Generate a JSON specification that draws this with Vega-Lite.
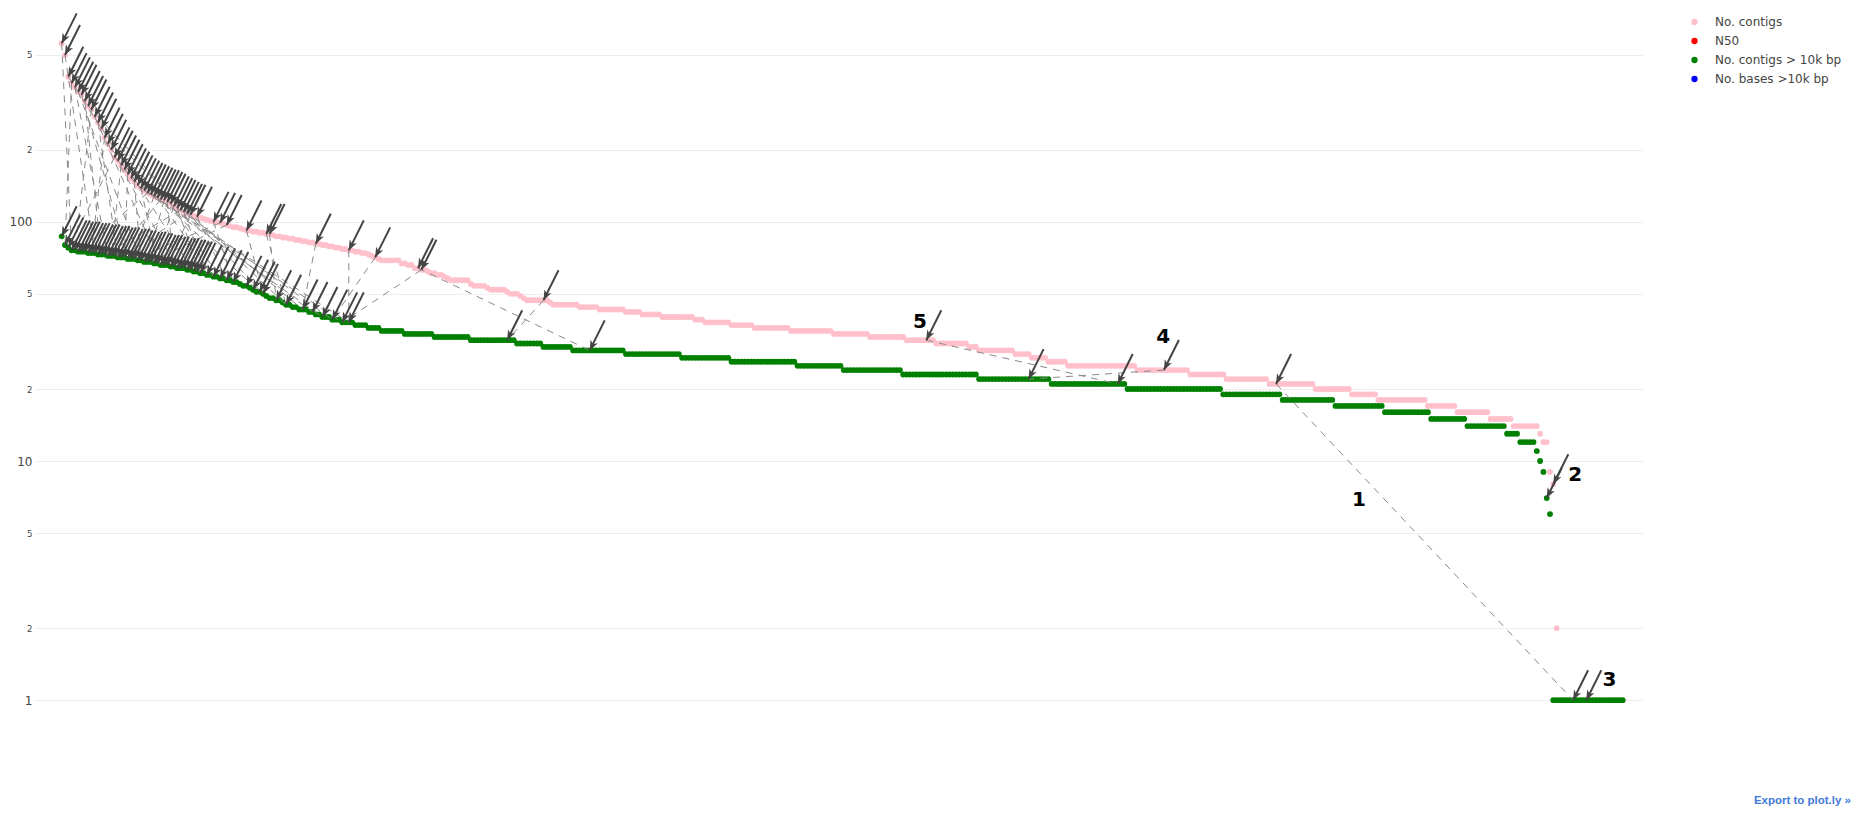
{
"$schema":"https://vega.github.io/schema/vega-lite/v6.json",
"width":1608,"height":780,
"autosize":{"type":"none"},
"padding":{"left":35,"top":10,"right":218,"bottom":31},
"background":"white",
"config":{"view":{"stroke":null},"font":"DejaVu Sans"},
"title":{"text":"Export to plot.ly »","orient":"bottom","anchor":"end","frame":"group","dx":208,"offset":5,"fontSize":11.5,"fontWeight":"bold","color":"#447adb","font":"Liberation Sans"},
"datasets":{
"ranks":[
{"i":0,"p":557,"g":87},{"i":1,"p":498,"g":80},{"i":2,"p":404,"g":78},{"i":3,"p":380,"g":76},{"i":4,"p":365,"g":76},{"i":5,"p":350,"g":75},{"i":6,"p":340,"g":75},{"i":7,"p":320,"g":75},{"i":8,"p":305,"g":74},{"i":9,"p":295,"g":74},
{"i":10,"p":275,"g":74},{"i":11,"p":260,"g":73},{"i":12,"p":245,"g":73},{"i":13,"p":225,"g":73},{"i":14,"p":212,"g":72},{"i":15,"p":200,"g":72},{"i":16,"p":186,"g":72},{"i":17,"p":180,"g":71},{"i":18,"p":172,"g":71},{"i":19,"p":165,"g":71},
{"i":20,"p":158,"g":70},{"i":21,"p":152,"g":70},{"i":22,"p":147,"g":70},{"i":23,"p":142,"g":69},{"i":24,"p":138,"g":69},{"i":25,"p":135,"g":68},{"i":26,"p":132,"g":68},{"i":27,"p":130,"g":68},{"i":28,"p":128,"g":67},{"i":29,"p":126,"g":67},
{"i":30,"p":124,"g":66},{"i":31,"p":123,"g":66},{"i":32,"p":121,"g":66},{"i":33,"p":119,"g":65},{"i":34,"p":116,"g":65},{"i":35,"p":114,"g":64},{"i":36,"p":112,"g":64},{"i":37,"p":110,"g":64},{"i":38,"p":108,"g":63},{"i":39,"p":107,"g":63},
{"i":40,"p":106,"g":62},{"i":41,"p":105,"g":62},{"i":42,"p":104,"g":61},{"i":43,"p":103,"g":61},{"i":44,"p":102,"g":60},{"i":45,"p":101,"g":60},{"i":46,"p":100,"g":59},{"i":47,"p":100,"g":59},{"i":48,"p":99,"g":58},{"i":49,"p":98,"g":58},
{"i":50,"p":97,"g":57},{"i":51,"p":96,"g":57},{"i":52,"p":95,"g":56},{"i":53,"p":95,"g":56},{"i":54,"p":94,"g":55},{"i":55,"p":93,"g":54},{"i":56,"p":92,"g":54},{"i":57,"p":92,"g":53},{"i":58,"p":91,"g":52},{"i":59,"p":91,"g":51},
{"i":60,"p":90,"g":51},{"i":61,"p":90,"g":50},{"i":62,"p":89,"g":49},{"i":63,"p":89,"g":48},{"i":64,"p":88,"g":48},{"i":65,"p":87,"g":47},{"i":66,"p":87,"g":47},{"i":67,"p":86,"g":46},{"i":68,"p":86,"g":45},{"i":69,"p":85,"g":45},
{"i":70,"p":85,"g":44},{"i":71,"p":84,"g":44},{"i":72,"p":84,"g":43},{"i":73,"p":83,"g":43},{"i":74,"p":83,"g":43},{"i":75,"p":82,"g":42},{"i":76,"p":82,"g":42},{"i":77,"p":81,"g":41},{"i":78,"p":81,"g":41},{"i":79,"p":80,"g":40},
{"i":80,"p":80,"g":40},{"i":81,"p":79,"g":40},{"i":82,"p":79,"g":39},{"i":83,"p":78,"g":39},{"i":84,"p":78,"g":39},{"i":85,"p":77,"g":38},{"i":86,"p":77,"g":38},{"i":87,"p":76,"g":38},{"i":88,"p":76,"g":38},{"i":89,"p":75,"g":37},
{"i":90,"p":75,"g":37},{"i":91,"p":74,"g":37},{"i":92,"p":74,"g":37},{"i":93,"p":73,"g":36},{"i":94,"p":72,"g":36},{"i":95,"p":71,"g":36},{"i":96,"p":70,"g":36},{"i":97,"p":69,"g":35},{"i":98,"p":69,"g":35},{"i":99,"p":69,"g":35},
{"i":100,"p":69,"g":35},{"i":101,"p":69,"g":35},{"i":102,"p":69,"g":35},{"i":103,"p":67,"g":35},{"i":104,"p":67,"g":34},{"i":105,"p":66,"g":34},{"i":106,"p":66,"g":34},{"i":107,"p":64,"g":34},{"i":108,"p":64,"g":34},{"i":109,"p":63,"g":34},
{"i":110,"p":63,"g":34},{"i":111,"p":62,"g":34},{"i":112,"p":61,"g":34},{"i":113,"p":61,"g":33},{"i":114,"p":60,"g":33},{"i":115,"p":60,"g":33},{"i":116,"p":59,"g":33},{"i":117,"p":58,"g":33},{"i":118,"p":57,"g":33},{"i":119,"p":57,"g":33},
{"i":120,"p":57,"g":33},{"i":121,"p":57,"g":33},{"i":122,"p":57,"g":33},{"i":123,"p":57,"g":33},{"i":124,"p":55,"g":32},{"i":125,"p":54,"g":32},{"i":126,"p":54,"g":32},{"i":127,"p":54,"g":32},{"i":128,"p":54,"g":32},{"i":129,"p":53,"g":32},
{"i":130,"p":52,"g":32},{"i":131,"p":52,"g":32},{"i":132,"p":52,"g":32},{"i":133,"p":52,"g":32},{"i":134,"p":52,"g":32},{"i":135,"p":51,"g":32},{"i":136,"p":50,"g":32},{"i":137,"p":50,"g":32},{"i":138,"p":50,"g":31},{"i":139,"p":49,"g":31},
{"i":140,"p":48,"g":31},{"i":141,"p":47,"g":31},{"i":142,"p":47,"g":31},{"i":143,"p":47,"g":31},{"i":144,"p":47,"g":31},{"i":145,"p":47,"g":31},{"i":146,"p":47,"g":30},{"i":147,"p":47,"g":30},{"i":148,"p":46,"g":30},{"i":149,"p":45,"g":30},
{"i":150,"p":45,"g":30},{"i":151,"p":45,"g":30},{"i":152,"p":45,"g":30},{"i":153,"p":45,"g":30},{"i":154,"p":45,"g":30},{"i":155,"p":45,"g":29},{"i":156,"p":45,"g":29},{"i":157,"p":44,"g":29},{"i":158,"p":44,"g":29},{"i":159,"p":44,"g":29},
{"i":160,"p":44,"g":29},{"i":161,"p":44,"g":29},{"i":162,"p":44,"g":29},{"i":163,"p":43,"g":29},{"i":164,"p":43,"g":29},{"i":165,"p":43,"g":29},{"i":166,"p":43,"g":29},{"i":167,"p":43,"g":29},{"i":168,"p":43,"g":29},{"i":169,"p":43,"g":29},
{"i":170,"p":43,"g":29},{"i":171,"p":42,"g":28},{"i":172,"p":42,"g":28},{"i":173,"p":42,"g":28},{"i":174,"p":42,"g":28},{"i":175,"p":42,"g":28},{"i":176,"p":41,"g":28},{"i":177,"p":41,"g":28},{"i":178,"p":41,"g":28},{"i":179,"p":41,"g":28},
{"i":180,"p":41,"g":28},{"i":181,"p":41,"g":28},{"i":182,"p":40,"g":28},{"i":183,"p":40,"g":28},{"i":184,"p":40,"g":28},{"i":185,"p":40,"g":28},{"i":186,"p":40,"g":28},{"i":187,"p":40,"g":28},{"i":188,"p":40,"g":27},{"i":189,"p":40,"g":27},
{"i":190,"p":40,"g":27},{"i":191,"p":40,"g":27},{"i":192,"p":39,"g":27},{"i":193,"p":39,"g":27},{"i":194,"p":39,"g":27},{"i":195,"p":38,"g":27},{"i":196,"p":38,"g":27},{"i":197,"p":38,"g":27},{"i":198,"p":38,"g":27},{"i":199,"p":38,"g":27},
{"i":200,"p":38,"g":27},{"i":201,"p":38,"g":27},{"i":202,"p":38,"g":27},{"i":203,"p":37,"g":26},{"i":204,"p":37,"g":26},{"i":205,"p":37,"g":26},{"i":206,"p":37,"g":26},{"i":207,"p":37,"g":26},{"i":208,"p":37,"g":26},{"i":209,"p":37,"g":26},
{"i":210,"p":36,"g":26},{"i":211,"p":36,"g":26},{"i":212,"p":36,"g":26},{"i":213,"p":36,"g":26},{"i":214,"p":36,"g":26},{"i":215,"p":36,"g":26},{"i":216,"p":36,"g":26},{"i":217,"p":36,"g":26},{"i":218,"p":36,"g":26},{"i":219,"p":36,"g":26},
{"i":220,"p":36,"g":26},{"i":221,"p":35,"g":26},{"i":222,"p":35,"g":26},{"i":223,"p":35,"g":25},{"i":224,"p":35,"g":25},{"i":225,"p":35,"g":25},{"i":226,"p":35,"g":25},{"i":227,"p":35,"g":25},{"i":228,"p":35,"g":25},{"i":229,"p":35,"g":25},
{"i":230,"p":35,"g":25},{"i":231,"p":35,"g":25},{"i":232,"p":35,"g":25},{"i":233,"p":35,"g":25},{"i":234,"p":34,"g":25},{"i":235,"p":34,"g":25},{"i":236,"p":34,"g":25},{"i":237,"p":34,"g":24},{"i":238,"p":34,"g":24},{"i":239,"p":34,"g":24},
{"i":240,"p":34,"g":24},{"i":241,"p":34,"g":24},{"i":242,"p":34,"g":24},{"i":243,"p":34,"g":24},{"i":244,"p":34,"g":24},{"i":245,"p":33,"g":24},{"i":246,"p":33,"g":24},{"i":247,"p":33,"g":24},{"i":248,"p":33,"g":24},{"i":249,"p":33,"g":24},
{"i":250,"p":33,"g":24},{"i":251,"p":33,"g":24},{"i":252,"p":33,"g":24},{"i":253,"p":33,"g":24},{"i":254,"p":33,"g":24},{"i":255,"p":33,"g":23},{"i":256,"p":32,"g":23},{"i":257,"p":32,"g":23},{"i":258,"p":32,"g":23},{"i":259,"p":32,"g":23},
{"i":260,"p":32,"g":23},{"i":261,"p":32,"g":23},{"i":262,"p":32,"g":23},{"i":263,"p":32,"g":23},{"i":264,"p":32,"g":23},{"i":265,"p":31,"g":23},{"i":266,"p":31,"g":23},{"i":267,"p":31,"g":23},{"i":268,"p":31,"g":23},{"i":269,"p":31,"g":23},
{"i":270,"p":31,"g":23},{"i":271,"p":31,"g":23},{"i":272,"p":31,"g":23},{"i":273,"p":31,"g":23},{"i":274,"p":31,"g":23},{"i":275,"p":30,"g":23},{"i":276,"p":30,"g":23},{"i":277,"p":30,"g":23},{"i":278,"p":29,"g":22},{"i":279,"p":29,"g":22},
{"i":280,"p":29,"g":22},{"i":281,"p":29,"g":22},{"i":282,"p":29,"g":22},{"i":283,"p":29,"g":22},{"i":284,"p":29,"g":22},{"i":285,"p":29,"g":22},{"i":286,"p":29,"g":22},{"i":287,"p":29,"g":22},{"i":288,"p":29,"g":22},{"i":289,"p":28,"g":22},
{"i":290,"p":28,"g":22},{"i":291,"p":28,"g":22},{"i":292,"p":28,"g":22},{"i":293,"p":28,"g":22},{"i":294,"p":27,"g":22},{"i":295,"p":27,"g":22},{"i":296,"p":27,"g":22},{"i":297,"p":27,"g":22},{"i":298,"p":27,"g":22},{"i":299,"p":26,"g":22},
{"i":300,"p":26,"g":21},{"i":301,"p":26,"g":21},{"i":302,"p":26,"g":21},{"i":303,"p":26,"g":21},{"i":304,"p":26,"g":21},{"i":305,"p":25,"g":21},{"i":306,"p":25,"g":21},{"i":307,"p":25,"g":21},{"i":308,"p":25,"g":21},{"i":309,"p":25,"g":21},
{"i":310,"p":25,"g":21},{"i":311,"p":25,"g":21},{"i":312,"p":25,"g":21},{"i":313,"p":25,"g":21},{"i":314,"p":25,"g":21},{"i":315,"p":25,"g":21},{"i":316,"p":25,"g":21},{"i":317,"p":25,"g":21},{"i":318,"p":25,"g":21},{"i":319,"p":25,"g":21},
{"i":320,"p":25,"g":21},{"i":321,"p":25,"g":21},{"i":322,"p":25,"g":21},{"i":323,"p":25,"g":20},{"i":324,"p":25,"g":20},{"i":325,"p":25,"g":20},{"i":326,"p":24,"g":20},{"i":327,"p":24,"g":20},{"i":328,"p":24,"g":20},{"i":329,"p":24,"g":20},
{"i":330,"p":24,"g":20},{"i":331,"p":24,"g":20},{"i":332,"p":24,"g":20},{"i":333,"p":24,"g":20},{"i":334,"p":24,"g":20},{"i":335,"p":24,"g":20},{"i":336,"p":24,"g":20},{"i":337,"p":24,"g":20},{"i":338,"p":24,"g":20},{"i":339,"p":24,"g":20},
{"i":340,"p":24,"g":20},{"i":341,"p":24,"g":20},{"i":342,"p":23,"g":20},{"i":343,"p":23,"g":20},{"i":344,"p":23,"g":20},{"i":345,"p":23,"g":20},{"i":346,"p":23,"g":20},{"i":347,"p":23,"g":20},{"i":348,"p":23,"g":20},{"i":349,"p":23,"g":20},
{"i":350,"p":23,"g":20},{"i":351,"p":23,"g":20},{"i":352,"p":23,"g":19},{"i":353,"p":22,"g":19},{"i":354,"p":22,"g":19},{"i":355,"p":22,"g":19},{"i":356,"p":22,"g":19},{"i":357,"p":22,"g":19},{"i":358,"p":22,"g":19},{"i":359,"p":22,"g":19},
{"i":360,"p":22,"g":19},{"i":361,"p":22,"g":19},{"i":362,"p":22,"g":19},{"i":363,"p":22,"g":19},{"i":364,"p":22,"g":19},{"i":365,"p":22,"g":19},{"i":366,"p":21,"g":19},{"i":367,"p":21,"g":19},{"i":368,"p":21,"g":19},{"i":369,"p":21,"g":19},
{"i":370,"p":21,"g":18},{"i":371,"p":21,"g":18},{"i":372,"p":21,"g":18},{"i":373,"p":21,"g":18},{"i":374,"p":21,"g":18},{"i":375,"p":21,"g":18},{"i":376,"p":21,"g":18},{"i":377,"p":21,"g":18},{"i":378,"p":21,"g":18},{"i":379,"p":21,"g":18},
{"i":380,"p":20,"g":18},{"i":381,"p":20,"g":18},{"i":382,"p":20,"g":18},{"i":383,"p":20,"g":18},{"i":384,"p":20,"g":18},{"i":385,"p":20,"g":18},{"i":386,"p":20,"g":17},{"i":387,"p":20,"g":17},{"i":388,"p":20,"g":17},{"i":389,"p":20,"g":17},
{"i":390,"p":20,"g":17},{"i":391,"p":19,"g":17},{"i":392,"p":19,"g":17},{"i":393,"p":19,"g":17},{"i":394,"p":19,"g":17},{"i":395,"p":19,"g":17},{"i":396,"p":19,"g":17},{"i":397,"p":19,"g":17},{"i":398,"p":19,"g":17},{"i":399,"p":18,"g":17},
{"i":400,"p":18,"g":17},{"i":401,"p":18,"g":16},{"i":402,"p":18,"g":16},{"i":403,"p":18,"g":16},{"i":404,"p":18,"g":16},{"i":405,"p":18,"g":16},{"i":406,"p":18,"g":16},{"i":407,"p":18,"g":16},{"i":408,"p":18,"g":16},{"i":409,"p":18,"g":16},
{"i":410,"p":18,"g":16},{"i":411,"p":18,"g":16},{"i":412,"p":18,"g":16},{"i":413,"p":18,"g":16},{"i":414,"p":17,"g":16},{"i":415,"p":17,"g":15},{"i":416,"p":17,"g":15},{"i":417,"p":17,"g":15},{"i":418,"p":17,"g":15},{"i":419,"p":17,"g":15},
{"i":420,"p":17,"g":15},{"i":421,"p":17,"g":15},{"i":422,"p":17,"g":15},{"i":423,"p":16,"g":15},{"i":424,"p":16,"g":15},{"i":425,"p":16,"g":15},{"i":426,"p":16,"g":14},{"i":427,"p":16,"g":14},{"i":428,"p":16,"g":14},{"i":429,"p":16,"g":14},
{"i":430,"p":16,"g":14},{"i":431,"p":16,"g":14},{"i":432,"p":16,"g":14},{"i":433,"p":15,"g":14},{"i":434,"p":15,"g":14},{"i":435,"p":15,"g":14},{"i":436,"p":15,"g":14},{"i":437,"p":15,"g":14},{"i":438,"p":15,"g":13},{"i":439,"p":15,"g":13},
{"i":440,"p":14,"g":13},{"i":441,"p":14,"g":13},{"i":442,"p":14,"g":12},{"i":443,"p":14,"g":12},{"i":444,"p":14,"g":12},{"i":445,"p":14,"g":12},{"i":446,"p":14,"g":12},{"i":447,"p":14,"g":11},{"i":448,"p":13,"g":10},{"i":449,"p":12,"g":9},
{"i":450,"p":12,"g":7},{"i":451,"p":9,"g":6},{"i":452,"p":8,"g":1},{"i":453,"p":2,"g":1},{"i":454,"p":1,"g":1},{"i":455,"p":1,"g":1},{"i":456,"p":1,"g":1},{"i":457,"p":1,"g":1},{"i":458,"p":1,"g":1},{"i":459,"p":1,"g":1},
{"i":460,"p":1,"g":1},{"i":461,"p":1,"g":1},{"i":462,"p":1,"g":1},{"i":463,"p":1,"g":1},{"i":464,"p":1,"g":1},{"i":465,"p":1,"g":1},{"i":466,"p":1,"g":1},{"i":467,"p":1,"g":1},{"i":468,"p":1,"g":1},{"i":469,"p":1,"g":1},
{"i":470,"p":1,"g":1},{"i":471,"p":1,"g":1},{"i":472,"p":1,"g":1},{"i":473,"p":1,"g":1}
],
"arrows":[
{"i":0,"v":557},{"i":1,"v":498},{"i":2,"v":404},{"i":3,"v":380},{"i":4,"v":365},{"i":5,"v":350},{"i":6,"v":340},{"i":7,"v":320},{"i":8,"v":305},{"i":9,"v":295},
{"i":10,"v":275},{"i":11,"v":260},{"i":12,"v":245},{"i":13,"v":225},{"i":14,"v":212},{"i":15,"v":200},{"i":16,"v":186},{"i":17,"v":180},{"i":18,"v":172},{"i":19,"v":165},
{"i":20,"v":158},{"i":21,"v":152},{"i":22,"v":147},{"i":23,"v":142},{"i":24,"v":138},{"i":25,"v":135},{"i":26,"v":132},{"i":27,"v":130},{"i":28,"v":128},{"i":29,"v":126},
{"i":30,"v":124},{"i":31,"v":123},{"i":32,"v":121},{"i":33,"v":119},{"i":34,"v":116},{"i":35,"v":114},{"i":36,"v":112},{"i":37,"v":110},{"i":38,"v":108},{"i":39,"v":107},
{"i":41,"v":105},{"i":46,"v":100},{"i":48,"v":99},{"i":50,"v":97},{"i":56,"v":92},{"i":62,"v":89},{"i":63,"v":89},{"i":77,"v":81},{"i":87,"v":76},{"i":95,"v":71},
{"i":108,"v":64},{"i":109,"v":63},{"i":146,"v":47},{"i":262,"v":32},{"i":334,"v":24},{"i":368,"v":21},{"i":452,"v":8},
{"i":0,"v":87},{"i":1,"v":80},{"i":2,"v":78},{"i":3,"v":76},{"i":4,"v":76},{"i":5,"v":75},{"i":6,"v":75},{"i":7,"v":75},{"i":8,"v":74},{"i":9,"v":74},
{"i":10,"v":74},{"i":11,"v":73},{"i":12,"v":73},{"i":13,"v":73},{"i":14,"v":72},{"i":15,"v":72},{"i":16,"v":72},{"i":17,"v":71},{"i":18,"v":71},{"i":19,"v":71},
{"i":20,"v":70},{"i":21,"v":70},{"i":22,"v":70},{"i":23,"v":69},{"i":24,"v":69},{"i":25,"v":68},{"i":26,"v":68},{"i":27,"v":68},{"i":28,"v":67},{"i":29,"v":67},
{"i":30,"v":66},{"i":31,"v":66},{"i":32,"v":66},{"i":33,"v":65},{"i":34,"v":65},{"i":35,"v":64},{"i":36,"v":64},{"i":37,"v":64},{"i":38,"v":63},{"i":39,"v":63},
{"i":40,"v":62},{"i":41,"v":62},{"i":42,"v":61},{"i":44,"v":60},{"i":46,"v":59},{"i":48,"v":58},{"i":50,"v":57},{"i":52,"v":56},{"i":56,"v":54},{"i":58,"v":52},
{"i":60,"v":51},{"i":61,"v":50},{"i":65,"v":47},{"i":68,"v":45},{"i":73,"v":43},{"i":76,"v":42},{"i":79,"v":40},{"i":82,"v":39},{"i":85,"v":38},{"i":87,"v":38},
{"i":135,"v":32},{"i":160,"v":29},{"i":293,"v":22},{"i":320,"v":21},{"i":450,"v":7},{"i":458,"v":1},{"i":462,"v":1}
],
"links":[
{"i1":0,"v1":557,"i2":3,"v2":76},{"i1":1,"v1":498,"i2":10,"v2":74},{"i1":2,"v1":404,"i2":40,"v2":62},{"i1":3,"v1":380,"i2":1,"v2":80},{"i1":4,"v1":365,"i2":14,"v2":72},
{"i1":5,"v1":350,"i2":24,"v2":69},{"i1":6,"v1":340,"i2":20,"v2":70},{"i1":7,"v1":320,"i2":12,"v2":73},{"i1":8,"v1":305,"i2":61,"v2":50},{"i1":9,"v1":295,"i2":4,"v2":76},
{"i1":10,"v1":275,"i2":30,"v2":66},{"i1":11,"v1":260,"i2":17,"v2":71},{"i1":12,"v1":245,"i2":68,"v2":45},{"i1":13,"v1":225,"i2":9,"v2":74},{"i1":14,"v1":212,"i2":35,"v2":64},
{"i1":15,"v1":200,"i2":73,"v2":43},{"i1":16,"v1":186,"i2":2,"v2":78},{"i1":17,"v1":180,"i2":60,"v2":51},{"i1":18,"v1":172,"i2":15,"v2":72},{"i1":19,"v1":165,"i2":82,"v2":39},
{"i1":20,"v1":158,"i2":19,"v2":71},{"i1":21,"v1":152,"i2":76,"v2":42},{"i1":22,"v1":147,"i2":24,"v2":69},{"i1":23,"v1":142,"i2":85,"v2":38},{"i1":24,"v1":138,"i2":29,"v2":67},
{"i1":25,"v1":135,"i2":79,"v2":40},{"i1":26,"v1":132,"i2":5,"v2":75},{"i1":27,"v1":130,"i2":87,"v2":38},{"i1":28,"v1":128,"i2":21,"v2":70},{"i1":29,"v1":126,"i2":46,"v2":59},
{"i1":30,"v1":124,"i2":16,"v2":72},{"i1":31,"v1":123,"i2":26,"v2":68},{"i1":32,"v1":121,"i2":34,"v2":65},{"i1":33,"v1":119,"i2":48,"v2":58},{"i1":34,"v1":116,"i2":28,"v2":67},
{"i1":35,"v1":114,"i2":42,"v2":61},{"i1":36,"v1":112,"i2":13,"v2":73},{"i1":37,"v1":110,"i2":44,"v2":60},{"i1":38,"v1":108,"i2":18,"v2":71},{"i1":39,"v1":107,"i2":32,"v2":66},
{"i1":41,"v1":105,"i2":50,"v2":57},{"i1":46,"v1":100,"i2":52,"v2":56},{"i1":48,"v1":99,"i2":22,"v2":70},{"i1":50,"v1":97,"i2":27,"v2":68},{"i1":56,"v1":92,"i2":61,"v2":50},
{"i1":62,"v1":89,"i2":68,"v2":45},{"i1":63,"v1":89,"i2":65,"v2":47},{"i1":77,"v1":81,"i2":73,"v2":43},{"i1":87,"v1":76,"i2":87,"v2":38},{"i1":95,"v1":71,"i2":82,"v2":39},
{"i1":109,"v1":63,"i2":85,"v2":38},{"i1":108,"v1":64,"i2":160,"v2":29},{"i1":146,"v1":47,"i2":135,"v2":32},{"i1":262,"v1":32,"i2":320,"v2":21},{"i1":334,"v1":24,"i2":293,"v2":22},
{"i1":368,"v1":21,"i2":458,"v2":1},{"i1":452,"v1":8,"i2":450,"v2":7}
],
"labels":[
{"i":260.1,"v":38.2,"t":"5"},{"i":333.8,"v":33.1,"t":"4"},{"i":393.1,"v":6.87,"t":"1"},{"i":458.6,"v":8.74,"t":"2"},{"i":469,"v":1.215,"t":"3"}
]
},
"layer":[
{"data":{"name":"ranks"},
 "mark":{"type":"circle","size":34,"opacity":1},
 "encoding":{
  "x":{"field":"i","type":"quantitative","scale":{"domain":[-8.09,479.18],"nice":false,"zero":false},"axis":null},
  "y":{"field":"p","type":"quantitative","title":null,"scale":{"type":"log","domain":[0.4213,768.4],"nice":false},
       "axis":{"values":[1,2,5,10,20,50,100,200,500],"labelExpr":"(datum.value==1||datum.value==10||datum.value==100) ? toString(datum.value) : substring(toString(datum.value),0,1)","grid":true,"gridColor":"#eeeeee","gridWidth":1,"domain":false,"ticks":false,"tickSize":0,"labelPadding":3,"labelColor":"#444444","labelFont":"DejaVu Sans","labelFontSize":{"condition":{"test":"datum.value==1||datum.value==10||datum.value==100","value":12},"value":8.5},"title":null}},
  "color":{"datum":"No. contigs","type":"nominal","scale":{"domain":["No. contigs","N50","No. contigs > 10k bp","No. bases >10k bp"],"range":["pink","red","green","blue"]},
       "legend":{"orient":"none","legendX":1653.5,"legendY":6,"title":null,"labelFont":"DejaVu Sans","labelFontSize":12,"labelColor":"#444444","symbolType":"circle","symbolSize":40,"symbolStrokeWidth":0,"labelOffset":14.5,"rowPadding":7,"padding":0}}
 }},
{"data":{"name":"ranks"},
 "mark":{"type":"circle","size":34,"opacity":1},
 "encoding":{
  "x":{"field":"i","type":"quantitative","scale":{"domain":[-8.09,479.18],"nice":false,"zero":false},"axis":null},
  "y":{"field":"g","type":"quantitative","title":null,"scale":{"type":"log","domain":[0.4213,768.4],"nice":false},
       "axis":{"values":[1,2,5,10,20,50,100,200,500],"labelExpr":"(datum.value==1||datum.value==10||datum.value==100) ? toString(datum.value) : substring(toString(datum.value),0,1)","grid":true,"gridColor":"#eeeeee","gridWidth":1,"domain":false,"ticks":false,"tickSize":0,"labelPadding":3,"labelColor":"#444444","labelFont":"DejaVu Sans","labelFontSize":{"condition":{"test":"datum.value==1||datum.value==10||datum.value==100","value":12},"value":8.5},"title":null}},
  "color":{"datum":"No. contigs > 10k bp","type":"nominal","scale":{"domain":["No. contigs","N50","No. contigs > 10k bp","No. bases >10k bp"],"range":["pink","red","green","blue"]},
       "legend":{"orient":"none","legendX":1653.5,"legendY":6,"title":null,"labelFont":"DejaVu Sans","labelFontSize":12,"labelColor":"#444444","symbolType":"circle","symbolSize":40,"symbolStrokeWidth":0,"labelOffset":14.5,"rowPadding":7,"padding":0}}
 }},
{"data":{"name":"links"},
 "mark":{"type":"rule","color":"#888888","strokeWidth":1,"strokeDash":[7,6]},
 "encoding":{
  "x":{"field":"i1","type":"quantitative","scale":{"domain":[-8.09,479.18],"nice":false,"zero":false},"axis":null},
  "x2":{"field":"i2"},
  "y":{"field":"v1","type":"quantitative","title":null,"scale":{"type":"log","domain":[0.4213,768.4],"nice":false},
       "axis":{"values":[1,2,5,10,20,50,100,200,500],"labelExpr":"(datum.value==1||datum.value==10||datum.value==100) ? toString(datum.value) : substring(toString(datum.value),0,1)","grid":true,"gridColor":"#eeeeee","gridWidth":1,"domain":false,"ticks":false,"tickSize":0,"labelPadding":3,"labelColor":"#444444","labelFont":"DejaVu Sans","labelFontSize":{"condition":{"test":"datum.value==1||datum.value==10||datum.value==100","value":12},"value":8.5},"title":null}},
  "y2":{"field":"v2"}
 }},
{"data":{"name":"arrows"},
 "mark":{"type":"rule","color":"#444444","strokeWidth":2,"x2Offset":15,"y2Offset":-30},
 "encoding":{
  "x":{"field":"i","type":"quantitative","scale":{"domain":[-8.09,479.18],"nice":false,"zero":false},"axis":null},
  "x2":{"field":"i"},
  "y":{"field":"v","type":"quantitative","title":null,"scale":{"type":"log","domain":[0.4213,768.4],"nice":false},
       "axis":{"values":[1,2,5,10,20,50,100,200,500],"labelExpr":"(datum.value==1||datum.value==10||datum.value==100) ? toString(datum.value) : substring(toString(datum.value),0,1)","grid":true,"gridColor":"#eeeeee","gridWidth":1,"domain":false,"ticks":false,"tickSize":0,"labelPadding":3,"labelColor":"#444444","labelFont":"DejaVu Sans","labelFontSize":{"condition":{"test":"datum.value==1||datum.value==10||datum.value==100","value":12},"value":8.5},"title":null}},
  "y2":{"field":"v"}
 }},
{"data":{"name":"arrows"},
 "mark":{"type":"point","shape":"M0,0L-0.8,-2L0,-1.45L0.8,-2Z","size":100,"angle":26.57,"filled":true,"color":"#444444","opacity":1,"strokeWidth":0},
 "encoding":{
  "x":{"field":"i","type":"quantitative","scale":{"domain":[-8.09,479.18],"nice":false,"zero":false},"axis":null},
  "y":{"field":"v","type":"quantitative","title":null,"scale":{"type":"log","domain":[0.4213,768.4],"nice":false},
       "axis":{"values":[1,2,5,10,20,50,100,200,500],"labelExpr":"(datum.value==1||datum.value==10||datum.value==100) ? toString(datum.value) : substring(toString(datum.value),0,1)","grid":true,"gridColor":"#eeeeee","gridWidth":1,"domain":false,"ticks":false,"tickSize":0,"labelPadding":3,"labelColor":"#444444","labelFont":"DejaVu Sans","labelFontSize":{"condition":{"test":"datum.value==1||datum.value==10||datum.value==100","value":12},"value":8.5},"title":null}}
 }},
{"data":{"name":"labels"},
 "mark":{"type":"text","font":"DejaVu Sans","fontWeight":"bold","fontSize":20,"color":"#000000","align":"center","baseline":"middle"},
 "encoding":{
  "x":{"field":"i","type":"quantitative","scale":{"domain":[-8.09,479.18],"nice":false,"zero":false},"axis":null},
  "y":{"field":"v","type":"quantitative","title":null,"scale":{"type":"log","domain":[0.4213,768.4],"nice":false},
       "axis":{"values":[1,2,5,10,20,50,100,200,500],"labelExpr":"(datum.value==1||datum.value==10||datum.value==100) ? toString(datum.value) : substring(toString(datum.value),0,1)","grid":true,"gridColor":"#eeeeee","gridWidth":1,"domain":false,"ticks":false,"tickSize":0,"labelPadding":3,"labelColor":"#444444","labelFont":"DejaVu Sans","labelFontSize":{"condition":{"test":"datum.value==1||datum.value==10||datum.value==100","value":12},"value":8.5},"title":null}},
  "text":{"field":"t","type":"nominal"}
 }}
]
}
